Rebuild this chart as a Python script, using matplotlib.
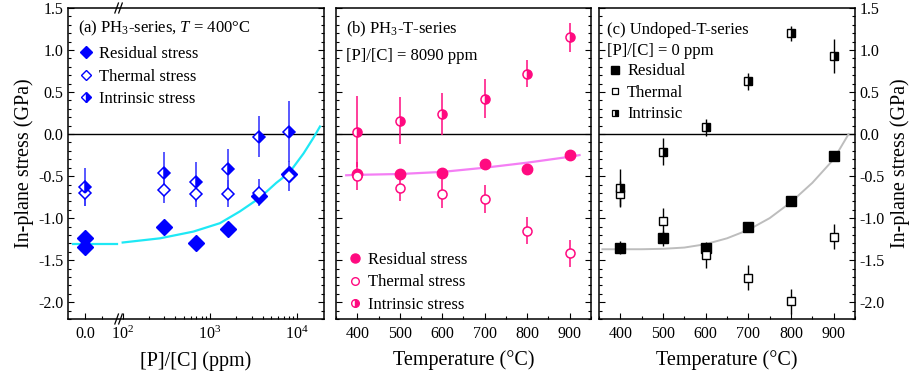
import numpy as np
import matplotlib
matplotlib.use("Agg")
import matplotlib.pyplot as plt
from matplotlib.lines import Line2D

plt.rcParams['font.family'] = 'Liberation Serif'
plt.rcParams['mathtext.fontset'] = 'custom'
plt.rcParams['mathtext.rm'] = 'Liberation Serif'
plt.rcParams['mathtext.it'] = 'Liberation Serif:italic'
plt.rcParams['axes.unicode_minus'] = False

# (a) PH3-series at 400 C
ppm = np.array([0, 0, 300, 700, 1600, 3600, 8090])
res_a = [-1.24, -1.34, -1.11, -1.29, -1.13, -0.74, -0.47]
ppm_b = np.array([0, 300, 700, 1600, 3600, 8090])
therm_a = [-0.70, -0.66, -0.71, -0.71, -0.70, -0.50]
therm_a_err = [0.15, 0.16, 0.16, 0.16, 0.16, 0.18]
intr_a = [-0.63, -0.46, -0.57, -0.42, -0.03, 0.03]
intr_a_err = [0.23, 0.25, 0.24, 0.24, 0.24, 0.36]
fit_a_x1 = [-32, 85]
fit_a_y1 = [-1.31, -1.31]
fit_a_x2 = [100, 268, 645, 1300, 2200, 3700, 5750, 8090, 11800, 15400, 18200]
fit_a_y2 = [-1.29, -1.24, -1.16, -1.06, -0.92, -0.76, -0.58, -0.46, -0.23, -0.04, 0.09]

# (b) PH3-T-series
temp = [400, 500, 600, 700, 800, 900]
res_b = [-0.47, -0.47, -0.46, -0.35, -0.41, -0.25]
therm_b = [-0.50, -0.64, -0.71, -0.77, -1.15, -1.42]
therm_b_err = [0.17, 0.16, 0.17, 0.17, 0.16, 0.16]
intr_b = [0.03, 0.16, 0.24, 0.42, 0.72, 1.15]
intr_b_err = [0.42, 0.28, 0.25, 0.23, 0.16, 0.17]
fit_b_x = [374, 400, 500, 600, 700, 800, 900, 923]
fit_b_y = [-0.49, -0.485, -0.475, -0.45, -0.40, -0.34, -0.27, -0.25]

# (c) Undoped-T-series
res_c = [-1.35, -1.24, -1.36, -1.11, -0.80, -0.26]
res_c_err = [0.08, 0.09, 0.08, 0.05, 0.05, 0.05]
therm_c = [-0.71, -1.03, -1.44, -1.71, -1.99, -1.22]
therm_c_err = [0.15, 0.15, 0.15, 0.15, 0.15, 0.15]
intr_c = [-0.64, -0.21, 0.08, 0.63, 1.20, 0.93]
intr_c_err = [0.23, 0.16, 0.10, 0.10, 0.09, 0.20]
fit_c_x = [358, 400, 450, 500, 550, 600, 650, 700, 750, 800, 850, 900, 935]
fit_c_y = [-1.37, -1.37, -1.37, -1.365, -1.35, -1.31, -1.24, -1.14, -1.00, -0.81, -0.58, -0.30, 0.0]

blue = '#0000ff'
blue_err = '#3c3cff'
cyan = '#1ee8f5'
pink = '#ff0a80'
pink_fit = '#f47ef4'
grey = '#bdbdbd'

u0 = 1.568


def fwd(x):
    x = np.asarray(x, dtype=float)
    return np.where(x < 100, u0 + (2 - u0) * x / 100, np.log10(np.maximum(x, 1e-9)))


def inv(u):
    u = np.asarray(u, dtype=float)
    return np.where(u < 2, (u - u0) / (2 - u0) * 100, 10 ** np.minimum(u, 20))


fig = plt.figure(figsize=(9.18, 3.82), dpi=100)
bot, hgt = 63 / 382, 311 / 382
axa = fig.add_axes([68 / 918, bot, 256 / 918, hgt])
axb = fig.add_axes([336 / 918, bot, 255 / 918, hgt])
axc = fig.add_axes([599 / 918, bot, 256 / 918, hgt])

for ax in (axa, axb, axc):
    ax.set_ylim(-2.2, 1.5)
    ax.set_yticks(np.arange(-2.0, 1.51, 0.5))
    ax.set_yticks(np.arange(-2.2, 1.51, 0.1), minor=True)
    ax.tick_params(which='both', direction='in', left=True, right=True, top=False,
                   width=0.8, labelsize=11.5)
    ax.tick_params(which='major', length=4.5)
    ax.tick_params(which='minor', length=2.5)
    ax.tick_params(axis='x', pad=5)
    for s in ax.spines.values():
        s.set_linewidth(1.1)
    ax.axhline(0, color='black', lw=1.0, zorder=1)
    ax.yaxis.set_major_formatter(matplotlib.ticker.FormatStrFormatter('%.1f'))

axb.tick_params(labelleft=False)
axc.tick_params(labelleft=False, labelright=True)

# panel (a)
axa.set_xscale('function', functions=(fwd, inv))
axa.set_xlim(-45, 20230)
axa.set_xticks([0, 100, 1000, 10000])
axa.set_xticklabels(['0.0', '$10^2$', '$10^3$', '$10^4$'])
minors = [45] + [k * 10 ** n for n in (2, 3) for k in range(2, 10)]
axa.set_xticks(minors, minor=True)
axa.plot(fit_a_x1, fit_a_y1, color=cyan, lw=1.6, zorder=2)
axa.plot(fit_a_x2, fit_a_y2, color=cyan, lw=1.6, zorder=2)
axa.errorbar(ppm_b, therm_a, yerr=therm_a_err, fmt='none', ecolor=blue_err, elinewidth=1.2, zorder=3)
axa.errorbar(ppm_b, intr_a, yerr=intr_a_err, fmt='none', ecolor=blue_err, elinewidth=1.2, zorder=3)
axa.plot(ppm, res_a, 'D', color=blue, ms=8, zorder=4)
axa.plot(ppm_b, therm_a, 'D', mfc='white', mec=blue, mew=1.1, ms=6.5, zorder=4)
axa.plot(ppm_b, intr_a, 'D', color=blue, fillstyle='right', mfc=blue, mfcalt='white',
         mec=blue, mew=1.1, ms=6.5, zorder=5)
# break marks
for xb in (0.19, 0.205):
    for yb in (0, 1):
        axa.plot([xb - 0.007, xb + 0.007], [yb - 0.016, yb + 0.016], color='black', lw=0.9,
                 transform=axa.transAxes, clip_on=False, zorder=6)
axa.set_xlabel('[P]/[C] (ppm)', fontsize=14.5, labelpad=6)
axa.set_ylabel('In-plane stress (GPa)', fontsize=14.5, labelpad=3)
axa.text(0.04, 0.935, '(a) PH$_3$-series, $T$ = 400°C', transform=axa.transAxes,
         fontsize=12, va='center', ha='left')
ha = [Line2D([], [], ls='none', marker='D', color=blue, ms=6.5),
      Line2D([], [], ls='none', marker='D', mfc='white', mec=blue, ms=5.5, mew=1.0),
      Line2D([], [], ls='none', marker='D', color=blue, fillstyle='right', mfcalt='white', ms=5.5, mew=1.0)]
axa.legend(ha, ['Residual stress', 'Thermal stress', 'Intrinsic stress'], loc='upper left',
           bbox_to_anchor=(0.04, 0.877), frameon=False, fontsize=12, handlelength=0.9,
           handletextpad=0.35, labelspacing=0.38, borderpad=0, borderaxespad=0)

# panel (b)
for ax in (axb, axc):
    ax.set_xlim(350, 950)
    ax.set_xticks([400, 500, 600, 700, 800, 900])
    ax.set_xticks(np.arange(350, 951, 50), minor=True)
    ax.set_xlabel('Temperature (°C)', fontsize=14.5, labelpad=6)

axb.plot(fit_b_x, fit_b_y, color=pink_fit, lw=1.6, zorder=2)
axb.errorbar(temp, therm_b, yerr=therm_b_err, fmt='none', ecolor=pink, elinewidth=1.1, zorder=3)
axb.errorbar(temp, intr_b, yerr=intr_b_err, fmt='none', ecolor=pink, elinewidth=1.1, zorder=3)
axb.plot(temp, res_b, 'o', color=pink, ms=7.5, zorder=4)
axb.plot(temp, therm_b, 'o', mfc='white', mec=pink, mew=1.1, ms=6.5, zorder=4)
axb.plot(temp, intr_b, 'o', color=pink, fillstyle='right', mfcalt='white', mec=pink,
         mew=1.1, ms=6.5, zorder=5)
axb.text(0.04, 0.93, '(b) PH$_3$-T-series', transform=axb.transAxes, fontsize=12, va='center')
axb.text(0.04, 0.845, '[P]/[C] = 8090 ppm', transform=axb.transAxes, fontsize=12, va='center')
hb = [Line2D([], [], ls='none', marker='o', color=pink, ms=6.5),
      Line2D([], [], ls='none', marker='o', mfc='white', mec=pink, ms=5.5, mew=1.0),
      Line2D([], [], ls='none', marker='o', color=pink, fillstyle='right', mfcalt='white', ms=5.5, mew=1.0)]
axb.legend(hb, ['Residual stress', 'Thermal stress', 'Intrinsic stress'], loc='lower left',
           bbox_to_anchor=(0.045, 0.02), frameon=False, fontsize=12, handlelength=0.9,
           handletextpad=0.35, labelspacing=0.38, borderpad=0, borderaxespad=0)

# panel (c)
axc.plot(fit_c_x, fit_c_y, color=grey, lw=1.4, zorder=2)
axc.errorbar(temp, res_c, yerr=res_c_err, fmt='none', ecolor='black', elinewidth=1.0, zorder=3)
axc.errorbar(temp, therm_c, yerr=therm_c_err, fmt='none', ecolor='black', elinewidth=1.0, zorder=3)
axc.errorbar(temp, intr_c, yerr=intr_c_err, fmt='none', ecolor='black', elinewidth=1.0, zorder=3)
axc.plot(temp, res_c, 's', color='black', ms=7, zorder=4)
axc.plot(temp, therm_c, 's', mfc='white', mec='black', mew=1.0, ms=5.8, zorder=4)
axc.plot(temp, intr_c, 's', color='black', fillstyle='right', mfcalt='white', mec='black',
         mew=1.0, ms=5.8, zorder=5)
axc.text(0.03, 0.93, '(c) Undoped-T-series', transform=axc.transAxes, fontsize=12, va='center')
axc.text(0.03, 0.863, '[P]/[C] = 0 ppm', transform=axc.transAxes, fontsize=12, va='center')
hc = [Line2D([], [], ls='none', marker='s', color='black', ms=5.5),
      Line2D([], [], ls='none', marker='s', mfc='white', mec='black', ms=4.5, mew=0.9),
      Line2D([], [], ls='none', marker='s', color='black', fillstyle='right', mfcalt='white', ms=4.5, mew=0.9)]
axc.legend(hc, ['Residual', 'Thermal', 'Intrinsic'], loc='upper left',
           bbox_to_anchor=(0.035, 0.822), frameon=False, fontsize=12, handlelength=0.8,
           handletextpad=0.35, labelspacing=0.33, borderpad=0, borderaxespad=0)
axc.yaxis.set_label_position('right')
axc.set_ylabel('In-plane stress (GPa)', fontsize=14.5, labelpad=4)

fig.savefig('out.png', dpi=100)
